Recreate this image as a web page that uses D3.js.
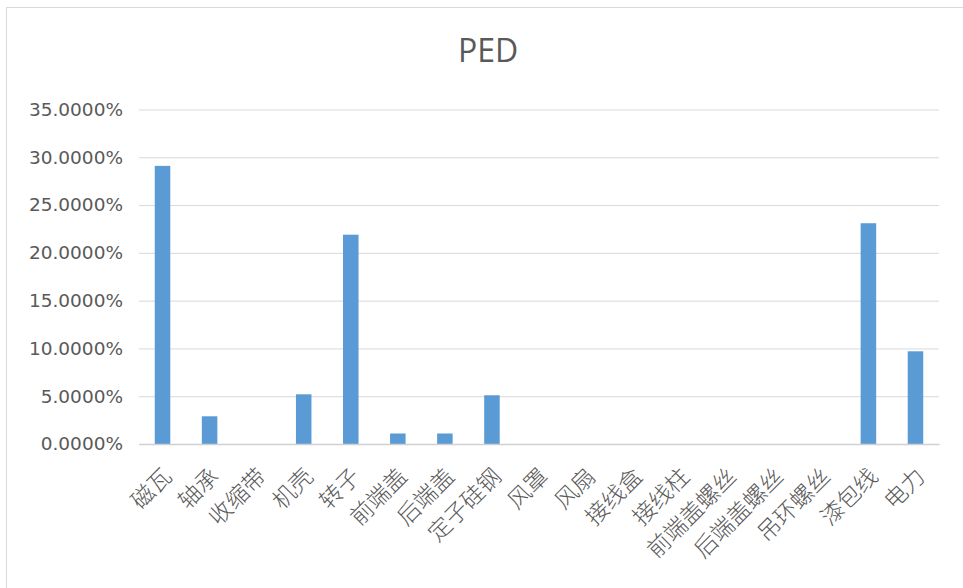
<!DOCTYPE html>
<html>
<head>
<meta charset="utf-8">
<script src="https://cdn.jsdelivr.net/npm/d3@7"></script>
<style>
  html, body { margin: 0; padding: 0; background: #fff; }
  svg { display: block; }
</style>
</head>
<body>
<svg id="chart" width="963" height="588"></svg>
<script>
// Share of each component in the PED total
const categories = ["磁瓦", "轴承", "收缩带", "机壳", "转子", "前端盖", "后端盖", "定子硅钢", "风罩", "风扇",
  "接线盒", "接线柱", "前端盖螺丝", "后端盖螺丝", "吊环螺丝", "漆包线", "电力"];
const values = [29.1, 2.9, 0, 5.2, 21.9, 1.1, 1.1, 5.1, 0, 0, 0, 0, 0, 0, 0, 23.1, 9.7];
const yTicks = [0, 5, 10, 15, 20, 25, 30, 35];
const title = "PED";

const svg = d3.select("#chart");
const plot = { left: 139, right: 939, top: 109.5, bottom: 444 };

// chart frame
svg.append("rect")
  .attr("x", 6.5).attr("y", 7.5)
  .attr("width", 1000).attr("height", 700)
  .attr("fill", "#fff").attr("stroke", "#d9d9d9").attr("stroke-width", 1);

const x = d3.scaleBand()
  .domain(categories.map((c, i) => i))
  .range([plot.left, plot.right])
  .paddingInner(0.67).paddingOuter(0.335);

const y = d3.scaleLinear().domain([0, 35]).range([plot.bottom, plot.top]);

// gridlines + y labels
const yAxis = d3.axisLeft(y)
  .tickValues(yTicks)
  .tickSize(-(plot.right - plot.left))
  .tickPadding(16)
  .tickFormat(d => d.toFixed(4) + "%");

const gy = svg.append("g")
  .attr("transform", `translate(${plot.left},0)`)
  .call(yAxis);
gy.select(".domain").remove();
gy.selectAll(".tick line").attr("stroke", "#d9d9d9").attr("stroke-width", 1);
gy.selectAll(".tick text")
  .attr("fill", "#595959")
  .style("font-family", "'DejaVu Sans', sans-serif")
  .style("font-size", "18.5px");

// bars
svg.append("g").selectAll("rect")
  .data(values)
  .join("rect")
  .attr("x", (d, i) => x(i))
  .attr("width", x.bandwidth())
  .attr("y", d => y(d))
  .attr("height", d => y(0) - y(d))
  .attr("fill", "#5b9bd5");

// category axis
const xAxis = d3.axisBottom(x)
  .tickSize(0)
  .tickFormat(i => categories[i]);
const gx = svg.append("g")
  .attr("transform", `translate(0,${plot.bottom})`)
  .call(xAxis);
gx.select(".domain").attr("stroke", "#d0d0d0").attr("stroke-width", 1.5);
gx.selectAll(".tick text")
  .attr("fill", "#595959")
  .style("font-family", "'Noto Sans CJK SC', sans-serif")
  .style("font-weight", 300)
  .style("font-size", "23px")
  .attr("text-anchor", "end")
  .attr("dy", 0)
  .attr("y", 0)
  .attr("transform", `translate(${x.bandwidth() / 2 + 3},${34}) rotate(-45)`);

// title
svg.append("text")
  .attr("x", 488).attr("y", 62)
  .attr("text-anchor", "middle")
  .attr("fill", "#595959")
  .style("font-family", "'Open Sans', sans-serif")
  .style("font-size", "32px")
  .text(title);
</script>
</body>
</html>
